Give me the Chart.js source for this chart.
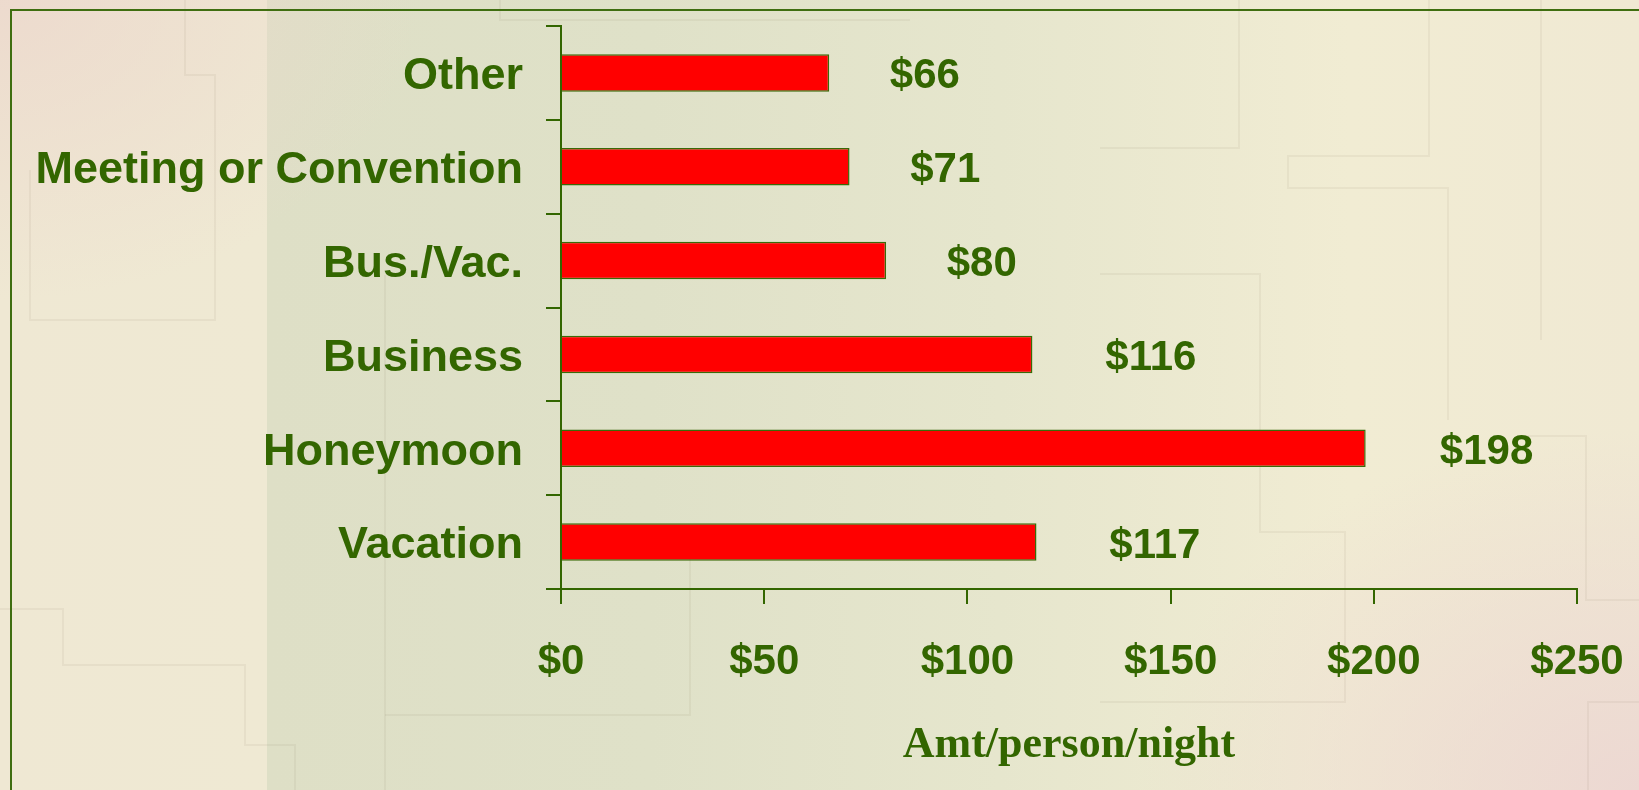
<!DOCTYPE html>
<html>
<head>
<meta charset="utf-8">
<script src="https://cdn.jsdelivr.net/npm/chart.js@4"></script>
<style>
  html, body {
    margin: 0;
    padding: 0;
    width: 1639px;
    height: 790px;
    overflow: hidden;
  }
  body {
    position: relative;
    background:
      radial-gradient(ellipse 420px 300px at 0 0, rgba(236, 214, 204, 0.75), rgba(236, 214, 204, 0)),
      radial-gradient(ellipse 500px 360px at 100% 100%, rgba(236, 214, 210, 0.9), rgba(236, 214, 210, 0)),
      linear-gradient(90deg, #efe8d3 0, #efe9d3 267px, #dedfc6 267px, #dfe1c8 650px, #e6e6cd 1000px, #f1ecd3 1350px, #f0e9d3 100%);
  }
  #fondo {
    position: absolute;
    left: 0;
    top: 0;
  }
  #frame {
    position: absolute;
    left: 10px;
    top: 9px;
    width: 1700px;
    height: 900px;
    border-top: 2px solid #3f6e10;
    border-left: 2px solid #3f6e10;
  }
  #graphCanvas {
    position: absolute;
    left: 0;
    top: 0;
  }
</style>
</head>
<body>
<!-- trazos tenues del fondo de la diapositiva -->
<svg id="fondo" width="1639" height="790" fill="none" stroke="rgba(110,100,70,0.07)" stroke-width="2">
  <polyline points="1100,148 1239,148 1239,0" />
  <polyline points="1429,0 1429,156 1288,156 1288,188 1448,188 1448,420" />
  <polyline points="1541,0 1541,340" />
  <polyline points="1100,274 1260,274 1260,532 1345,532 1345,702 1100,702" />
  <polyline points="1520,436 1586,436 1586,600 1639,600" />
  <polyline points="1588,790 1588,702 1639,702" />
  <polyline points="0,609 63,609 63,665 245,665 245,745 295,745 295,790" />
  <polyline points="185,0 185,75 215,75 215,160" />
  <polyline points="30,170 30,320 215,320 215,160" />
  <polyline points="385,275 385,790" />
  <polyline points="690,550 690,715 385,715" />
  <polyline points="500,0 500,20 910,20" />
</svg>
<div id="frame"></div>
<canvas id="graphCanvas" width="1639" height="790"></canvas>
<script>
// datos del gráfico
const categorias = ["Other", "Meeting or Convention", "Bus./Vac.", "Business", "Honeymoon", "Vacation"];
const valores = [66, 71, 80, 116, 198, 117];
const ticksX = [0, 50, 100, 150, 200, 250];
const tituloX = "Amt/person/night";

const verde = "#336600";

// etiquetas de valor a la derecha de cada barra
const etiquetasValor = {
  id: "etiquetasValor",
  afterDatasetsDraw(chart) {
    const ctx = chart.ctx;
    const meta = chart.getDatasetMeta(0);
    ctx.save();
    ctx.font = "bold 42px 'Liberation Sans', Arial, sans-serif";
    ctx.fillStyle = verde;
    ctx.textAlign = "left";
    ctx.textBaseline = "middle";
    meta.data.forEach((barra, i) => {
      const texto = "$" + valores[i];
      const ancho = ctx.measureText(texto).width;
      ctx.fillText(texto, barra.x + 20 + ancho * 0.58, barra.y + 4);
    });
    ctx.restore();
  }
};

const ctx = document.getElementById("graphCanvas").getContext("2d");

new Chart(ctx, {
  type: "bar",
  data: {
    labels: categorias,
    datasets: [{
      data: valores,
      backgroundColor: "#ff0000",
      borderColor: "#3a6a08",
      borderWidth: 1.5,
      barPercentage: 0.4,
      categoryPercentage: 1
    }]
  },
  options: {
    indexAxis: "y",
    responsive: false,
    animation: false,
    layout: { padding: { left: 0, top: 26, right: 62, bottom: 0 } },
    plugins: {
      legend: { display: false },
      tooltip: { enabled: false }
    },
    scales: {
      x: {
        min: 0,
        max: 250,
        afterBuildTicks: (scale) => {
          scale.ticks = ticksX.map((v) => ({ value: v }));
        },
        afterFit: (scale) => {
          scale.height = 201;
          scale.paddingLeft = 0;
          scale.paddingRight = 0;
        },
        grid: {
          drawOnChartArea: false,
          tickLength: 15,
          color: verde,
          lineWidth: 2
        },
        border: { color: verde, width: 2 },
        ticks: {
          callback: (v) => "$" + v,
          color: verde,
          padding: 33,
          maxRotation: 0,
          font: { family: "'Liberation Sans', Arial, sans-serif", size: 42, weight: "bold" }
        },
        title: {
          display: true,
          text: tituloX,
          color: verde,
          padding: { top: 0, bottom: 18 },
          font: { family: "'Liberation Serif', 'Times New Roman', serif", size: 44, weight: "bold" }
        }
      },
      y: {
        afterFit: (scale) => {
          scale.width = 561;
          scale.paddingTop = 0;
          scale.paddingBottom = 0;
        },
        grid: {
          drawOnChartArea: false,
          offset: true,
          tickLength: 15,
          color: verde,
          lineWidth: 2
        },
        border: { color: verde, width: 2 },
        ticks: {
          color: verde,
          padding: 23,
          labelOffset: 4,
          font: { family: "'Liberation Sans', Arial, sans-serif", size: 45, weight: "bold" }
        }
      }
    }
  },
  plugins: [etiquetasValor]
});
</script>
</body>
</html>
